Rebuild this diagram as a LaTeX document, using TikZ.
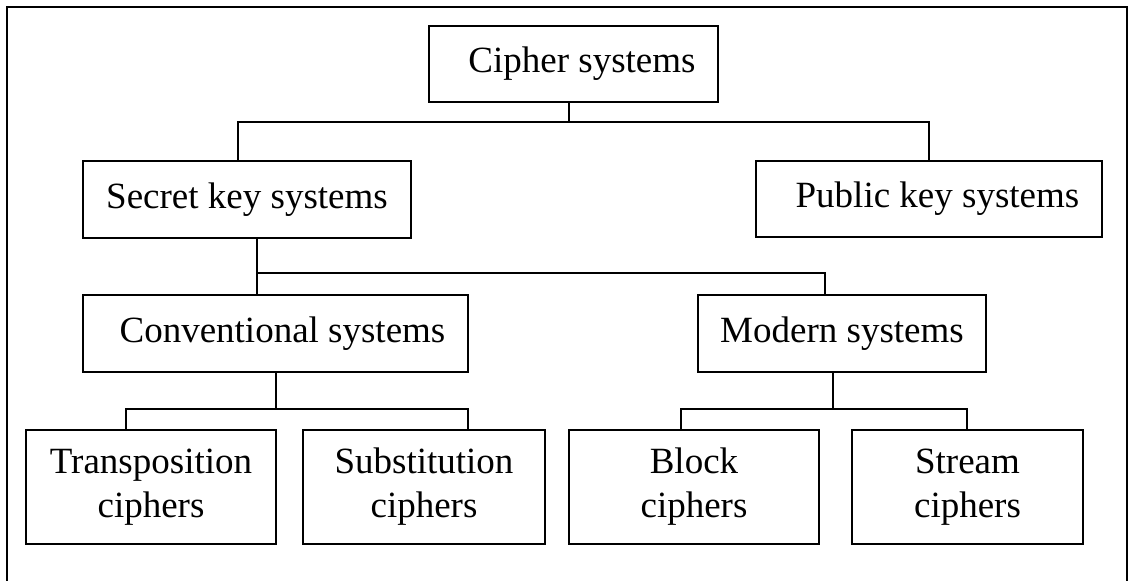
\documentclass[tikz,border=0pt]{standalone}
\usepackage{fontspec}
\setmainfont{Liberation Serif}
\begin{document}
\begin{tikzpicture}[x=1pt,y=-1pt,
  box/.style={draw, line width=1.6pt, inner sep=0pt, font=\fontsize{37}{44}\selectfont, align=center},
  conn/.style={line width=1.3pt},
  frame/.style={line width=2pt}]
\useasboundingbox (0,0) rectangle (1128,581);
\draw[frame] (6.5,581) -- (6.5,7) -- (1126.5,7) -- (1126.5,581);

\node[box, minimum width=289pt, minimum height=76pt] (cipher) at (573.5,64) {\hspace*{17pt}Cipher systems};
\node[box, minimum width=328pt, minimum height=77pt] (secret) at (247,199.5) {Secret key systems};
\node[box, minimum width=346pt, minimum height=76pt] (public) at (929,199) {\hspace*{17pt}Public key systems};
\node[box, minimum width=385pt, minimum height=77pt] (conv) at (275.5,333.5) {\hspace*{14pt}Conventional systems};
\node[box, minimum width=288pt, minimum height=77pt] (modern) at (842,333.5) {Modern systems};
\node[box, minimum width=250pt, minimum height=114pt] (trans) at (151,487) {Transposition\\ciphers};
\node[box, minimum width=242pt, minimum height=114pt] (subst) at (424,487) {Substitution\\ciphers};
\node[box, minimum width=250pt, minimum height=114pt] (block) at (694,487) {Block\\ciphers};
\node[box, minimum width=231pt, minimum height=114pt] (stream) at (967.5,487) {Stream\\ciphers};

\coordinate (j0) at (569,122);
\coordinate (jl) at (238,122);
\coordinate (jr) at (929,122);
\draw[conn] (cipher.south -| j0) -- (j0);
\draw[conn] (secret.north -| jl) -- (jl) -- (jr) -- (public.north -| jr);

\coordinate (k1) at (257,273);
\coordinate (k2) at (825,273);
\draw[conn] (secret.south -| k1) -- (conv.north -| k1);
\draw[conn] (k1) -- (k2) -- (modern.north -| k2);

\coordinate (c0) at (276,409);
\coordinate (cl) at (126,409);
\coordinate (cr) at (468,409);
\draw[conn] (conv.south -| c0) -- (c0);
\draw[conn] (trans.north -| cl) -- (cl) -- (cr) -- (subst.north -| cr);

\coordinate (m0) at (833,409);
\coordinate (ml) at (681,409);
\coordinate (mr) at (967,409);
\draw[conn] (modern.south -| m0) -- (m0);
\draw[conn] (block.north -| ml) -- (ml) -- (mr) -- (stream.north -| mr);
\end{tikzpicture}
\end{document}
